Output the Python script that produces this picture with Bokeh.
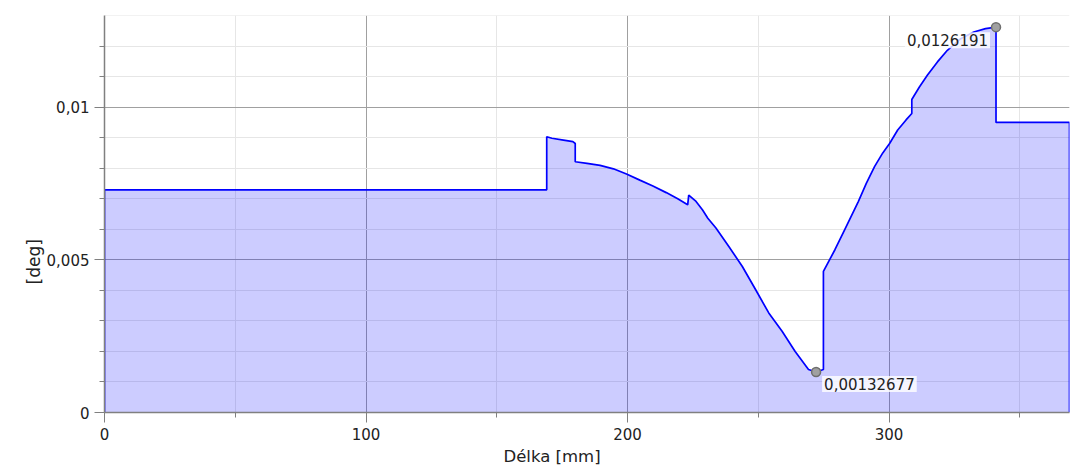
import math
from bokeh.plotting import figure
from bokeh.models import FixedTicker, CustomJSTickFormatter, Label, Range1d, Title
from bokeh.embed import file_html
from bokeh.resources import INLINE

# Data (x in mm, y in deg)
length_mm = [0, 0, 169.1, 169.1, 171.1, 175.5, 179.1, 180.0, 180.0, 184.5, 189.5,
             194.6, 199.6, 204.7, 209.7, 214.8, 219.2, 223.0, 223.4, 226.2, 228.7,
             230.7, 233.8, 238.8, 243.9, 249.0, 254.0, 259.1, 264.1, 269.2, 272.1,
             274.9, 274.9, 279.3, 283.1, 288.2, 291.3, 294.5, 297.6, 300.2, 303.3,
             306.5, 308.7, 308.7, 311.6, 314.7, 318.5, 322.3, 327.4, 332.4, 336.9,
             340.9, 340.9, 369.0, 369.0]
angle_deg = [0, 0.00729, 0.00729, 0.00903, 0.00898, 0.00892, 0.00887, 0.00881, 0.00821,
             0.00816, 0.00809, 0.00798, 0.00781, 0.00761, 0.00742, 0.00720, 0.00700,
             0.00680, 0.00712, 0.00691, 0.00663, 0.00636, 0.00604, 0.00543, 0.00478,
             0.00402, 0.00326, 0.00266, 0.00200, 0.00141, 0.00132677, 0.00141, 0.00462,
             0.00533, 0.00600, 0.00690, 0.00750, 0.00806, 0.00850, 0.00881, 0.00925,
             0.00958, 0.00979, 0.01025, 0.01066, 0.01105, 0.01148, 0.01186, 0.01224,
             0.01246, 0.01257, 0.0126191, 0.0095, 0.0095, 0]

marker_x = [272.1, 340.9]
marker_y = [0.00132677, 0.0126191]
marker_text = ["0,00132677", "0,0126191"]

x_major = [0, 100, 200, 300]
x_minor = [50, 150, 250, 350]
y_major = [0, 0.005, 0.01]
y_minor = [0.001 * i for i in range(14)]

x_title = "Délka [mm]"
y_title = "[deg]"

FONT = "DejaVu Sans"
TXT = "#222222"

p = figure(width=1070, height=467, output_backend="svg", toolbar_location=None,
           x_range=Range1d(0, 369.0), y_range=Range1d(0, 0.013),
           min_border_left=104, min_border_right=1, min_border_top=15,
           min_border_bottom=54)
p.outline_line_color = None
p.background_fill_color = "white"
p.border_fill_color = "white"

p.varea(x=length_mm, y1=0, y2=angle_deg, fill_color="#0000ff", fill_alpha=0.2)
p.line(x=length_mm, y=angle_deg, line_color="#0000ff", line_width=1.7)
p.scatter(x=marker_x, y=marker_y, size=9, fill_color="#a0a0a0",
          line_color="#6e6e6e", line_width=1.5)

p.xaxis.ticker = FixedTicker(ticks=x_major, minor_ticks=x_minor)
p.yaxis.ticker = FixedTicker(ticks=y_major, minor_ticks=y_minor)
p.yaxis.formatter = CustomJSTickFormatter(code="return tick.toString().replace('.', ',');")

for ax in (p.xaxis, p.yaxis):
    ax.axis_line_color = "#808080"
    ax.axis_line_width = 1.5
    ax.major_tick_line_color = "#808080"
    ax.minor_tick_line_color = "#808080"
    ax.major_tick_out = 10
    ax.major_tick_in = 0
    ax.minor_tick_out = 5
    ax.minor_tick_in = 0
    ax.major_label_text_font = FONT
    ax.major_label_text_font_size = "15px"
    ax.major_label_text_color = TXT
    ax.major_label_standoff = 5

p.xgrid.ticker = p.xaxis.ticker
p.ygrid.ticker = p.yaxis.ticker
for g in (p.xgrid, p.ygrid):
    g.grid_line_color = "#a0a0a0"
    g.minor_grid_line_color = "#e6e6e6"

# axis titles (placed off-centre as in the reference)
p.add_layout(Title(text=x_title, align="left", offset=399, standoff=4,
                   text_font=FONT, text_font_size="16.5px", text_color=TXT,
                   text_font_style="normal"), "below")
p.add_layout(Title(text=y_title, align="left", offset=128, standoff=0,
                   text_font=FONT, text_font_size="17px", text_color=TXT,
                   text_font_style="normal"), "left")

# value annotations
p.add_layout(Label(x=marker_x[0], y=marker_y[0], text=marker_text[0], x_offset=6,
                   y_offset=-4, text_align="left", text_baseline="top",
                   text_font=FONT, text_font_size="15px", text_color=TXT,
                   background_fill_color="white", background_fill_alpha=0.8, padding=2))
p.add_layout(Label(x=marker_x[1], y=marker_y[1], text=marker_text[1], x_offset=-6,
                   y_offset=-5, text_align="right", text_baseline="top",
                   text_font=FONT, text_font_size="15px", text_color=TXT,
                   background_fill_color="white", background_fill_alpha=0.8, padding=2))

open("out.html", "w").write(file_html(p, INLINE))
